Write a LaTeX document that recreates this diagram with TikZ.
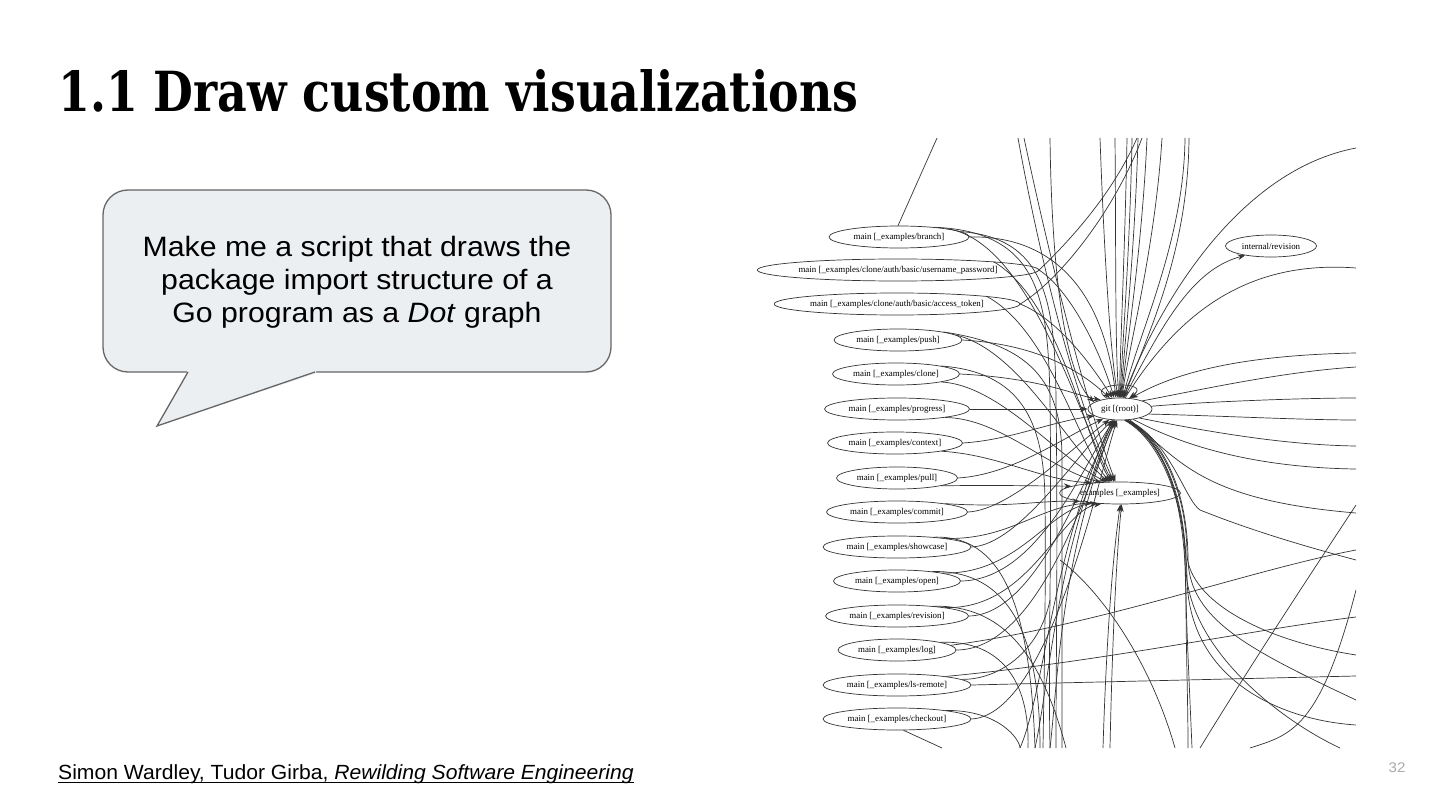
\documentclass[tikz,border=0pt]{standalone}
\usepackage{fontspec}
\setmainfont{Liberation Serif}
\newfontfamily\titlefont{DejaVu Serif Condensed}[BoldFont={* Bold}]
\newfontfamily\uifont{Liberation Sans}[FakeStretch=1.08]
\newfontfamily\footfont{Liberation Sans}[FakeStretch=1.03]
\usetikzlibrary{shapes.geometric,arrows.meta}
\definecolor{bubblefill}{HTML}{ECEFF2}
\definecolor{bubbleline}{HTML}{666666}
\definecolor{edgecol}{HTML}{333333}
\definecolor{pagenum}{HTML}{AAAAAA}
\tikzset{
  gn/.style={draw=edgecol, line width=0.7pt, ellipse, minimum height=22, inner sep=0, font=\fontsize{8.9}{9}\selectfont},
  e/.style={draw=edgecol, line width=0.7pt},
  ea/.style={e, -{Stealth[length=7.5pt,width=5.5pt]}},
}
\begin{document}
\begin{tikzpicture}[x=1pt,y=-1pt]
\useasboundingbox (0,0) rectangle (1440,810);
\fill[white] (0,0) rectangle (1440,810);

% title
\node[anchor=base west, inner sep=0] (title) at (58,112)
  {\resizebox{800pt}{42pt}{\titlefont\bfseries 1.1 Draw custom visualizations}};

% speech bubble
\draw[bubbleline, fill=bubblefill, line width=1.3pt, rounded corners=25pt]
  (103,190) rectangle (611,372);
\fill[bubblefill] (187,373.5) -- (157,426) -- (316,373.5) -- (316,369) -- (187,369) -- cycle;
\draw[bubbleline, line width=1.3pt, line join=miter] (188,372) -- (157,426) -- (315,372);
\node[align=center, inner sep=0, font=\uifont\fontsize{28}{33}\selectfont] (ask) at (357,282)
  {Make me a script that draws the\\ package import structure of a\\ Go program as a \textit{Dot} graph};

% footer
\node[anchor=base west, inner sep=0, font=\footfont\fontsize{20.5}{24}\selectfont] (foot) at (58,779)
  {Simon Wardley, Tudor Girba, \textit{Rewilding Software Engineering}};
\draw[black, line width=1.2pt] ([yshift=-3.5pt]foot.base west) -- ([yshift=-3.5pt]foot.base east);
\node[anchor=base, inner sep=0, text=pagenum, font=\uifont\fontsize{14}{16}\selectfont] (pg) at (1397,772) {32};

% graph nodes
\node[gn, minimum width=140] (br) at (899,237) {main [\_examples/branch]};
\node[gn, minimum width=278] (up) at (898,270) {main [\_examples/clone/auth/basic/username\_password]};
\node[gn, minimum width=245] (at) at (897,304) {main [\_examples/clone/auth/basic/access\_token]};
\node[gn, minimum width=128] (pu) at (898,340) {main [\_examples/push]};
\node[gn, minimum width=127] (cl) at (896,374) {main [\_examples/clone]};
\node[gn, minimum width=145] (pr) at (897,409) {main [\_examples/progress]};
\node[gn, minimum width=135] (co) at (895,443) {main [\_examples/context]};
\node[gn, minimum width=121] (pl) at (897,478) {main [\_examples/pull]};
\node[gn, minimum width=141] (cm) at (897,512) {main [\_examples/commit]};
\node[gn, minimum width=148] (sc) at (897,547) {main [\_examples/showcase]};
\node[gn, minimum width=127] (op) at (897,581) {main [\_examples/open]};
\node[gn, minimum width=143] (rv) at (897,616) {main [\_examples/revision]};
\node[gn, minimum width=118] (lg) at (897,650) {main [\_examples/log]};
\node[gn, minimum width=148] (ls) at (897,685) {main [\_examples/ls-remote]};
\node[gn, minimum width=148] (ck) at (897,719) {main [\_examples/checkout]};
\node[gn, minimum width=64] (git) at (1120,409) {git [(root)]};
\node[gn, minimum width=121] (ex) at (1120,493) {examples [\_examples]};
\node[gn, minimum width=91] (ir) at (1271,246) {internal/revision};

% border coordinates
\foreach \n/\x in {t0/937,t1/1018,t2/1024,t3/1050,t4/1100,t5/1115,t6/1127,t7/1132,t8/1138,t9/1147,t10/1162,t11/1185,t12/1189,t13/1137,t14/1142}
  \coordinate (\n) at (\x,138);
\foreach \n/\y in {r1/148,r2/268,r3/353,r4/367,r5/398,r6/420,r7/446,r8/469,r9/513,r10/560,r11/550,r12/617,r13/676,r14/700,r15/655,r16/505,r17/590,r18/725}
  \coordinate (\n) at (1356,\y);
\foreach \n/\x in {b1/942,b2/1020,b3/1028,b4/1035,b5/1043,b6/1050,b7/1056,b8/1062,b9/1103,b10/1110,b11/1175,b12/1188,b13/1192,b14/1200,b15/1250,b16/1340,b17/1040,b18/1066}
  \coordinate (\n) at (\x,748);

\begin{scope}
\clip (760,138) rectangle (1356,748);
% top border lines
\draw[e] (t0) -- (br.95);
\draw[ea] (t1) .. controls (1040,260) and (1075,400) .. (ex.118);
\draw[ea] (t2) .. controls (1050,260) and (1085,400) .. (ex.112);
\draw[ea] (t3) .. controls (1052,300) and (1070,380) .. (git.165);
\draw[ea] (t4) .. controls (1104,250) and (1110,350) .. (git.100);
\draw[ea] (t5) .. controls (1116,250) and (1115,350) .. (git.95);
\draw[ea] (t6) .. controls (1125,250) and (1120,350) .. (git.92);
\draw[ea] (t7) .. controls (1130,250) and (1122,350) .. (git.89);
\draw[ea] (t8) .. controls (1135,250) and (1124,350) .. (git.86);
\draw[ea] (t9) .. controls (1142,250) and (1126,350) .. (git.83);
\draw[ea] (t10) .. controls (1155,250) and (1128,350) .. (git.80);
\draw[ea] (t11) .. controls (1184,240) and (1140,330) .. (git.76);
\draw[ea] (t12) .. controls (1188,250) and (1150,330) .. (git.72);
\draw[e] (up.east) .. controls (1060,250) and (1110,200) .. (t13);
\draw[e] (at.east) .. controls (1060,280) and (1115,210) .. (t14);

% self loop
\draw[ea] (git.140) .. controls (1080,382) and (1155,380) .. (git.50);

% internal/revision
\draw[ea] (git.70) .. controls (1160,330) and (1190,270) .. (ir.200);
\draw[e] (git.75) .. controls (1160,300) and (1240,170) .. (r1);
\draw[e] (git.65) .. controls (1180,310) and (1250,260) .. (r2);

% right fan
\draw[ea] (r3) .. controls (1250,355) and (1180,370) .. (git.45);
\draw[e] (git.20) .. controls (1200,390) and (1280,372) .. (r4);
\draw[e] (git.5) .. controls (1200,402) and (1300,398) .. (r5);
\draw[e] (git.350) .. controls (1200,415) and (1300,420) .. (r6);
\draw[e] (git.335) .. controls (1200,430) and (1280,445) .. (r7);
\draw[e] (git.322) .. controls (1200,455) and (1280,468) .. (r8);
\draw[e] (git.312) .. controls (1180,460) and (1200,500) .. (r9);
\draw[e] (git.305) .. controls (1170,440) and (1185,500) .. (1200,510) .. controls (1250,530) and (1300,545) .. (r10);

% git bottom bundle
\draw[e] (git.298) .. controls (1165,440) and (1186,500) .. (1186,600) .. controls (1186,650) and (1188,700) .. (b12);
\draw[e] (git.294) .. controls (1163,440) and (1184,500) .. (1185,560) .. controls (1186,620) and (1190,700) .. (b13);
\draw[e] (git.302) .. controls (1168,440) and (1188,500) .. (1188,560) .. controls (1190,620) and (1250,650) .. (r14);
\draw[e] (git.300) .. controls (1166,440) and (1187,500) .. (1187,555) .. controls (1190,600) and (1260,640) .. (r15);
\draw[e] (git.296) .. controls (1164,440) and (1186,500) .. (1186,570) .. controls (1190,650) and (1280,720) .. (b16);
\draw[e] (git.292) .. controls (1160,440) and (1186,500) .. (1187,580) .. controls (1190,680) and (1280,720) .. (r18);

% arrows into examples from below
\draw[ea] (b9) .. controls (1106,650) and (1112,560) .. (ex.272);
\draw[ea] (b10) .. controls (1112,650) and (1116,560) .. (ex.278);

% crossing lines lower right
\draw[e] (b14) .. controls (1260,650) and (1320,560) .. (r16);
\draw[e] (b15) .. controls (1290,735) and (1320,730) .. (r17);
\draw[e] (b11) .. controls (1150,660) and (1100,590) .. (1060,560);

% main -> git
\draw[ea] (br.east) .. controls (1060,235) and (1105,300) .. (git.110);
\draw[ea] (up.east) .. controls (1070,290) and (1100,350) .. (git.118);
\draw[ea] (at.east) .. controls (1060,320) and (1095,370) .. (git.125);
\draw[ea] (pu.east) .. controls (1050,345) and (1090,380) .. (git.133);
\draw[ea] (cl.east) .. controls (1040,378) and (1075,395) .. (git.155);
\draw[ea] (pr.east) -- (git.west);
\draw[ea] (co.east) .. controls (1010,440) and (1050,422) .. (git.195);
\draw[ea] (pl.east) .. controls (1010,475) and (1060,440) .. (git.210);
\draw[ea] (cm.east) .. controls (1010,510) and (1070,450) .. (git.225);
\draw[ea] (sc.east) .. controls (1020,545) and (1080,450) .. (git.238);
\draw[ea] (op.east) .. controls (1040,580) and (1085,460) .. (git.243);
\draw[ea] (rv.east) .. controls (1040,615) and (1090,460) .. (git.248);
\draw[ea] (lg.east) .. controls (1045,650) and (1095,460) .. (git.252);
\draw[ea] (ck.east) .. controls (1050,715) and (1100,470) .. (git.256);

% main -> examples
\draw[ea] (br.10) .. controls (1030,240) and (1080,420) .. (ex.125);
\draw[ea] (up.5) .. controls (1060,300) and (1085,440) .. (ex.128);
\draw[ea] (at.5) .. controls (1050,330) and (1080,450) .. (ex.131);
\draw[ea] (pu.5) .. controls (1020,350) and (1070,450) .. (ex.135);
\draw[ea] (cl.350) .. controls (1000,385) and (1060,460) .. (ex.140);
\draw[ea] (pr.350) .. controls (1000,418) and (1050,470) .. (ex.150);
\draw[ea] (co.350) .. controls (1000,455) and (1040,480) .. (ex.160);
\draw[ea] (pl.350) .. controls (1000,485) and (1040,486) .. (ex.172);
\draw[ea] (cm.10) .. controls (1010,508) and (1040,500) .. (ex.192);
\draw[ea] (sc.10) .. controls (1010,540) and (1040,505) .. (ex.200);
\draw[ea] (op.10) .. controls (1020,575) and (1050,505) .. (ex.205);
\draw[ea] (rv.10) .. controls (1030,610) and (1060,510) .. (ex.210);

% main -> outside (long arcs downward)
\draw[e] (br.15) .. controls (1040,232) and (1048,300) .. (1050,400) .. controls (1052,550) and (1048,650) .. (b6);
\draw[e] (br.5) .. controls (1045,238) and (1055,300) .. (1056,400) .. controls (1058,550) and (1056,650) .. (b7);
\draw[e] (pu.10) .. controls (1030,345) and (1062,380) .. (1062,460) .. controls (1062,560) and (1062,650) .. (b8);
\draw[e] (cl.10) .. controls (1020,372) and (1044,420) .. (1045,500) .. controls (1046,600) and (1044,680) .. (b5);
\draw[e] (op.15) .. controls (1000,570) and (1040,620) .. (b17);
\draw[e] (rv.15) .. controls (1000,605) and (1040,650) .. (b18);
\draw[e] (sc.15) .. controls (1000,535) and (1030,600) .. (b4);
\draw[e] (lg.10) .. controls (1000,640) and (1030,680) .. (b3);
\draw[e] (lg.5) .. controls (1100,625) and (1250,570) .. (r11);
\draw[e] (ls.10) .. controls (1100,662) and (1250,630) .. (r12);
\draw[e] (ls.east) -- (r13);
\draw[e] (ck.300) -- (b1);
\draw[e] (ck.10) .. controls (1000,710) and (1020,740) .. (b2);
\draw[ea] (b2) .. controls (1045,690) and (1050,560) .. (git.235);
\draw[ea] (b4) .. controls (1050,680) and (1055,560) .. (git.240);
\draw[ea] (b6) .. controls (1058,680) and (1060,560) .. (git.245);
\draw[e] (ls.5) .. controls (1000,680) and (1040,650) .. (1050,600);
\end{scope}
\end{tikzpicture}
\end{document}
